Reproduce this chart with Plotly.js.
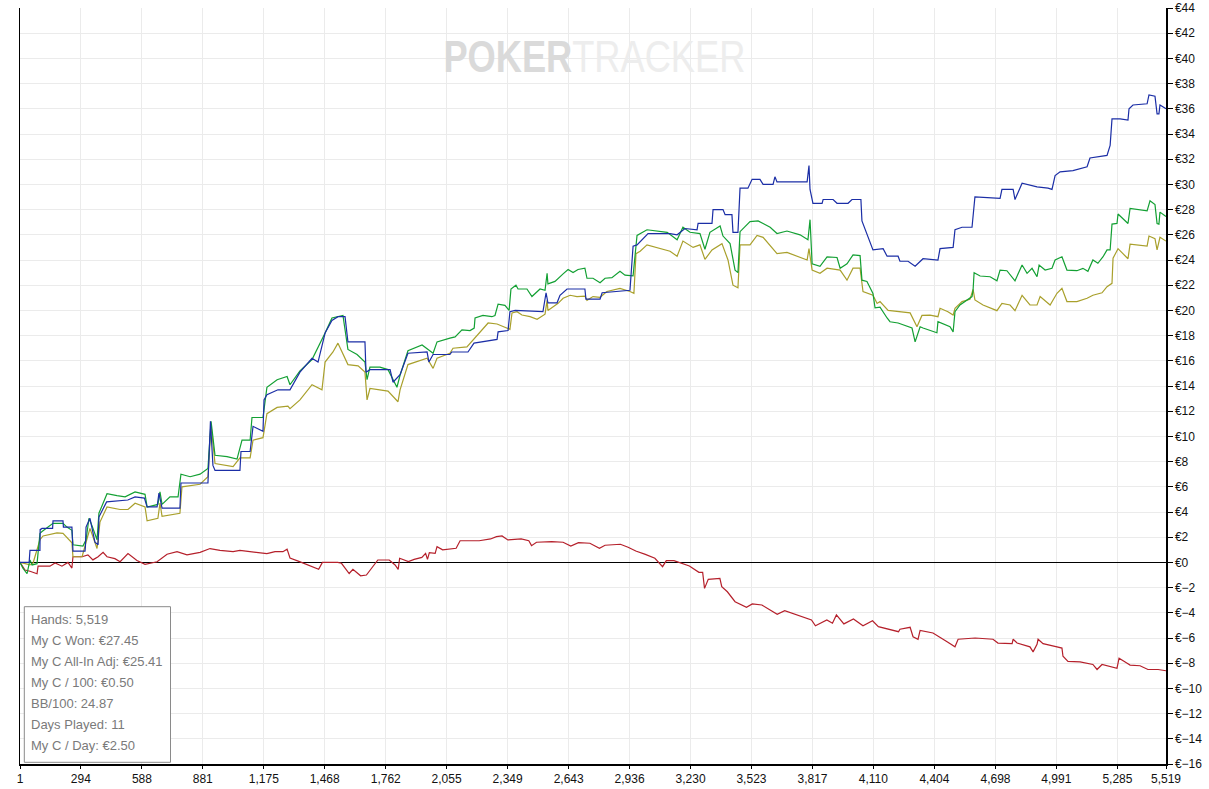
<!DOCTYPE html>
<html>
<head>
<meta charset="utf-8">
<script src="https://cdn.plot.ly/plotly-3.0.1.min.js"></script>
<style>
  html, body { margin: 0; padding: 0; background: #ffffff; }
  #chart { width: 1209px; height: 789px; }
</style>
</head>
<body>
<div id="chart"></div>
<script>
// ---- Data (hand number, cumulative € value) ----
const showdownHands = [1,45,49,97,98,107,158,160,208,210,251,256,314,316,319,338,362,377,381,418,520,555,600,613,661,670,685,771,776,906,918,930,940,1060,1065,1109,1123,1171,1176,1190,1243,1301,1349,1407,1436,1470,1503,1532,1566,1580,1662,1667,1686,1783,1797,1831,1869,1961,1970,1990,2071,2080,2158,2187,2298,2303,2351,2360,2385,2519,2534,2543,2587,2601,2635,2721,2726,2794,2804,2938,2953,2972,3025,3131,3165,3203,3261,3266,3333,3338,3386,3396,3429,3434,3458,3468,3506,3526,3564,3579,3627,3636,3646,3791,3800,3805,3819,3863,3868,3916,3935,3988,4007,4050,4055,4108,4157,4176,4229,4238,4277,4311,4349,4421,4431,4494,4503,4537,4585,4590,4599,4720,4729,4783,4792,4826,4898,4951,4970,4985,5009,5071,5139,5153,5235,5250,5259,5298,5336,5341,5360,5428,5437,5466,5476,5485,5490,5519];
const showdownValues = [0,0,0.95,0.95,2.6,2.7,2.7,3.3,3.3,2.8,2.8,0.9,0.9,1.25,2.8,3.5,1.6,1.4,3.6,4.8,4.95,5.2,5.1,4.4,4.4,5.5,4.3,4.3,6.3,6.3,11.2,7.7,7.3,7.3,8.8,8.8,10.8,10.4,12.9,13.3,13.7,13.7,15.1,16.2,15.9,18.2,19.2,19.5,19.5,17.5,17.5,15.1,15.3,15.3,14.3,14.9,16.6,16.7,15.9,16.5,16.5,16.7,16.7,17.4,17.7,18.3,18.4,19.9,20.0,19.9,21.4,20.6,20.6,21.2,21.7,21.7,20.9,20.9,21.4,21.6,25.1,25.2,26.1,26.1,26.0,26.5,26.4,26.9,26.9,28.0,28.0,27.6,27.6,26.2,26.2,29.7,29.7,30.4,30.4,30.0,30.0,30.6,30.2,30.2,31.5,29.6,28.5,28.5,28.8,28.8,28.5,28.5,28.8,28.8,27.1,24.8,24.9,24.3,24.3,23.9,23.9,23.5,24.1,24.0,24.9,25.0,26.4,26.6,26.6,27.6,29.0,28.9,29.6,29.6,28.8,30.1,29.8,29.7,29.6,30.7,31.0,31.1,31.4,32.1,32.3,33.1,35.2,35.2,35.1,36.0,36.3,36.4,37.1,37.0,35.6,35.6,36.3,36.0];

const wonHands = [1,15,35,49,59,83,97,107,160,208,227,251,256,304,319,333,348,372,381,420,468,507,555,603,613,665,675,685,723,762,776,820,868,906,921,940,998,1046,1070,1109,1118,1171,1190,1239,1287,1301,1349,1407,1470,1503,1556,1580,1624,1662,1672,1686,1734,1773,1816,1831,1869,1937,1990,2009,2071,2096,2129,2168,2188,2192,2230,2273,2288,2303,2336,2356,2365,2389,2399,2442,2466,2505,2529,2539,2543,2577,2616,2640,2664,2688,2721,2731,2760,2794,2818,2851,2890,2914,2953,2972,3020,3117,3165,3193,3227,3275,3299,3323,3372,3386,3420,3444,3458,3468,3516,3555,3579,3613,3646,3694,3757,3795,3805,3815,3853,3887,3935,3950,3983,4012,4046,4055,4079,4108,4118,4142,4176,4190,4229,4296,4311,4335,4349,4383,4416,4421,4455,4479,4494,4503,4527,4561,4585,4590,4595,4624,4672,4705,4720,4753,4792,4826,4850,4874,4898,4908,4937,4970,4985,5018,5042,5090,5119,5143,5167,5191,5216,5235,5250,5259,5283,5288,5336,5346,5428,5442,5466,5476,5485,5490,5519];
const wonValues = [0,-0.45,-0.9,0.2,-0.2,-0.1,2.3,2.45,3.1,3.1,2.8,2.55,1.4,1.3,1.8,3.5,2.9,1.8,3.9,5.45,5.3,5.2,5.6,5.4,4.4,4.6,5.6,4.6,5.2,5.2,7.0,6.8,7.0,7.45,11.2,8.5,8.4,8.2,9.7,9.7,11.5,11.5,13.9,14.5,14.75,14.1,15.2,16.1,18.2,19.4,19.6,16.9,16.5,15.9,14.5,15.5,15.5,15.3,13.9,14.85,16.8,17.25,16.6,17.5,17.8,17.9,18.45,18.4,18.6,19.4,19.6,19.5,19.6,20.5,20.4,20.0,21.7,22.0,21.7,21.7,21.1,21.7,21.6,22.95,22.1,22.3,22.9,23.25,23.0,23.25,23.35,22.55,22.55,22.2,22.55,22.6,23.1,22.8,22.75,25.95,26.4,26.2,25.6,26.6,26.2,26.1,24.85,26.2,26.7,25.9,25.3,23.2,23.0,26.25,27.05,27.1,26.9,26.6,26.1,26.3,26.0,25.6,27.2,23.7,23.5,24.25,24.2,23.35,23.7,24.4,24.35,22.4,22.3,21.35,20.2,20.25,19.4,19.1,19.0,18.6,17.5,18.7,18.6,18.44,18.23,19.1,18.84,18.7,18.3,19.9,20.43,20.83,21.1,21.6,22.99,22.73,22.67,22.35,23.2,23.15,22.35,23.6,22.94,23.34,22.67,23.6,23.2,23.34,24.0,24.26,23.2,23.15,23.34,23.1,24.0,23.74,24.26,24.8,24.8,26.85,26.9,27.65,26.9,28.1,27.9,28.7,28.4,26.9,26.85,27.8,27.45];

const allInHands = [1,49,64,97,112,179,208,251,256,300,319,338,372,386,420,483,521,555,603,613,665,675,685,771,781,868,906,921,940,1027,1060,1109,1123,1171,1190,1239,1291,1301,1349,1407,1455,1470,1508,1532,1580,1629,1662,1672,1686,1773,1821,1831,1869,1961,1990,2009,2071,2086,2153,2192,2255,2298,2336,2360,2370,2394,2418,2457,2491,2529,2539,2543,2592,2616,2650,2683,2721,2731,2760,2794,2827,2890,2938,2957,2967,2987,3020,3083,3131,3165,3193,3242,3275,3299,3333,3381,3410,3434,3458,3468,3516,3550,3579,3646,3694,3791,3800,3815,3853,3887,3950,3983,4012,4046,4060,4108,4128,4142,4181,4287,4320,4344,4383,4421,4431,4469,4494,4503,4537,4575,4590,4599,4638,4705,4729,4768,4792,4826,4864,4898,4913,4961,4994,5018,5042,5090,5139,5167,5211,5235,5259,5264,5288,5336,5346,5428,5437,5466,5476,5490,5519];
const allInValues = [0,-0.2,-0.05,1.8,2.1,2.35,2.3,1.55,0.45,0.45,1.6,2.7,1.1,3.2,4.4,4.2,4.2,4.7,4.4,3.3,3.5,4.7,3.65,3.9,6.0,6.2,6.8,10.9,7.85,7.6,8.3,8.3,9.7,9.9,11.8,12.3,12.4,12.2,12.9,14.1,13.7,15.9,16.7,17.4,15.7,15.6,15.1,12.9,13.8,13.6,12.75,13.7,15.7,16.2,15.4,16.2,16.6,17.0,17.1,17.8,19.0,18.92,18.7,18.5,19.8,19.9,19.63,19.5,19.3,19.7,20.8,20.0,20.56,20.96,21.2,21.1,21.14,20.8,21.1,21.04,21.5,21.75,21.5,21.36,24.5,24.7,25.2,24.9,24.7,24.3,25.5,25.0,25.2,24.05,24.8,25.3,24.0,22.0,21.8,25.2,25.2,25.95,25.8,24.5,24.6,24.0,24.9,23.2,22.95,23.35,23.2,22.4,23.35,23.35,21.5,21.2,20.55,20.7,20.0,19.8,18.7,19.6,19.63,19.5,20.17,19.9,19.63,20.17,20.7,20.88,21.67,20.83,20.43,19.98,20.56,20.43,19.98,21.2,20.43,20.43,21.1,20.43,21.36,21.75,20.7,20.7,20.96,21.2,21.4,21.88,22.15,24.14,24.9,24.1,25.25,25.1,25.9,25.7,24.8,25.8,25.5];

const nonShowdownHands = [1,25,49,83,88,145,170,203,232,251,256,300,328,352,377,401,420,458,483,521,564,603,661,709,757,805,868,916,964,1027,1060,1123,1190,1229,1267,1287,1301,1347,1439,1457,1531,1549,1586,1604,1641,1669,1687,1724,1779,1807,1822,1829,1871,1899,1936,1954,1963,1972,2000,2009,2036,2064,2101,2120,2212,2267,2295,2322,2350,2414,2451,2464,2488,2561,2616,2653,2690,2745,2791,2818,2892,2929,2966,3012,3058,3095,3113,3150,3187,3224,3270,3288,3297,3315,3371,3380,3407,3444,3499,3527,3573,3647,3683,3739,3812,3831,3886,3913,3932,3968,4014,4060,4106,4134,4198,4231,4238,4287,4301,4325,4335,4397,4465,4503,4518,4600,4686,4710,4778,4783,4802,4864,4879,4898,4903,4927,4994,5018,5023,5047,5105,5167,5187,5211,5283,5293,5332,5346,5394,5432,5481,5519];
const nonShowdownValues = [0,-0.6,-0.7,-0.9,-0.3,-0.3,-0.05,-0.3,0.0,-0.45,0.45,0.45,0.6,0.2,0.45,0.8,0.45,0.3,0.05,0.7,0.15,-0.15,0.05,0.65,0.85,0.6,0.8,1.1,0.95,0.85,0.95,0.85,0.7,0.85,0.85,1.05,0.35,0.06,-0.55,0.0,0.0,-0.07,-0.88,-0.55,-1.06,-1.0,-0.6,0.19,0.19,-0.2,-0.55,0.33,0.06,0.24,0.4,0.72,0.24,0.77,0.72,1.25,1.0,1.04,1.12,1.72,1.72,1.86,2.04,2.1,1.78,1.86,1.72,1.33,1.6,1.65,1.6,1.3,1.57,1.52,1.12,1.36,1.44,1.2,0.9,0.64,0.33,-0.34,0.14,0.14,-0.07,-0.29,-0.79,-0.79,-2.06,-1.34,-1.26,-1.93,-2.33,-3.12,-3.57,-3.3,-3.38,-4.12,-3.83,-4.17,-4.57,-5.03,-4.57,-4.83,-4.17,-4.88,-4.49,-5.03,-4.63,-5.1,-5.37,-5.5,-5.3,-5.15,-5.9,-6.1,-5.4,-5.6,-6.3,-6.7,-6.1,-6.0,-6.1,-6.4,-6.45,-6.1,-6.4,-6.7,-7.1,-6.5,-6.1,-6.45,-6.7,-6.8,-7.45,-7.85,-7.9,-8.1,-8.5,-8.1,-8.4,-7.6,-8.0,-8.15,-8.2,-8.5,-8.5,-8.6];

const xTickVals = [1,294,588,881,1175,1468,1762,2055,2349,2643,2936,3230,3523,3817,4110,4404,4698,4991,5285,5519];
const xTickText = ["1","294","588","881","1,175","1,468","1,762","2,055","2,349","2,643","2,936","3,230","3,523","3,817","4,110","4,404","4,698","4,991","5,285","5,519"];

const statLines = ["Hands: 5,519","My C Won: €27.45","My C All-In Adj: €25.41","My C / 100: €0.50","BB/100: 24.87","Days Played: 11","My C / Day: €2.50"];

// ---- Build chart ----
function line(x, y, color) {
  return { x: x, y: y, type: 'scatter', mode: 'lines', hoverinfo: 'skip',
           line: { color: color, width: 1.2, shape: 'linear' } };
}
const traces = [
  line(nonShowdownHands, nonShowdownValues, '#b5202b'),
  line(allInHands, allInValues, '#a9a02c'),
  line(wonHands, wonValues, '#13a033'),
  line(showdownHands, showdownValues, '#1b2ea6')
];

const W = 1209, H = 789, mL = 20, mR = 43, mT = 8, mB = 25;
const pw = W - mL - mR, ph = H - mT - mB;
const px = v => (v - mL) / pw;
const py = v => (H - mB - v) / ph;

const annotations = [];
statLines.forEach((t, i) => {
  annotations.push({ xref: 'paper', yref: 'paper', x: px(29), y: py(619 + i * 21.1),
    xanchor: 'left', yanchor: 'middle', showarrow: false, text: t,
    font: { family: 'Liberation Sans, Arial, sans-serif', size: 13, color: '#7a7a7a' } });
});
annotations.push({ xref: 'paper', yref: 'paper', x: px(594), y: py(57), xanchor: 'center', yanchor: 'middle',
  showarrow: false,
  text: '<b><span style="color:#dadada">POKER</span></b><span style="color:#ededed">TRACKER</span>',
  font: { family: 'Liberation Sans, Arial, sans-serif', size: 44, color: '#e4e4e4' } });

const layout = {
  width: W, height: H,
  margin: { l: mL, r: mR, t: mT, b: mB, pad: 0 },
  paper_bgcolor: '#ffffff', plot_bgcolor: '#ffffff',
  showlegend: false, hovermode: false,
  font: { family: 'Liberation Sans, Arial, sans-serif', size: 12, color: '#111111' },
  xaxis: {
    range: [1, 5519], tickmode: 'array', tickvals: xTickVals, ticktext: xTickText,
    showgrid: true, gridcolor: '#ebebeb', gridwidth: 1,
    showline: true, linecolor: '#000000', linewidth: 1.5,
    ticks: 'outside', ticklen: 3, tickcolor: '#000000',
    zeroline: false, tickfont: { size: 12, color: '#111111' }, fixedrange: true
  },
  yaxis: {
    side: 'right', range: [-16, 44], dtick: 2, tick0: 0, tickprefix: '€',
    showgrid: true, gridcolor: '#ebebeb', gridwidth: 1,
    showline: true, linecolor: '#000000', linewidth: 1.5, mirror: true,
    ticks: 'outside', ticklen: 5, tickcolor: '#000000',
    zeroline: true, zerolinecolor: '#000000', zerolinewidth: 1.2,
    tickfont: { size: 12, color: '#111111' }, fixedrange: true
  },
  shapes: [{
    type: 'rect', xref: 'paper', yref: 'paper', layer: 'above',
    x0: px(24.3), x1: px(170.5), y0: py(762.3), y1: py(606.7),
    line: { color: '#8a8a8a', width: 1 }, fillcolor: 'rgba(255,255,255,1)'
  }],
  annotations: annotations
};

Plotly.newPlot('chart', traces, layout, { displayModeBar: false, staticPlot: true }).then(function () {
  // condense the watermark horizontally to match the narrow logo lettering
  document.querySelectorAll('.annotation-text').forEach(function (el) {
    if (el.textContent.indexOf('POKER') === 0) {
      const bb = el.getBBox();
      const cx = bb.x + bb.width / 2;
      const s = 302 / bb.width;
      el.setAttribute('transform', 'translate(' + cx + ',0) scale(' + s + ',1) translate(' + (-cx) + ',0)');
    }
  });
});
</script>
</body>
</html>
